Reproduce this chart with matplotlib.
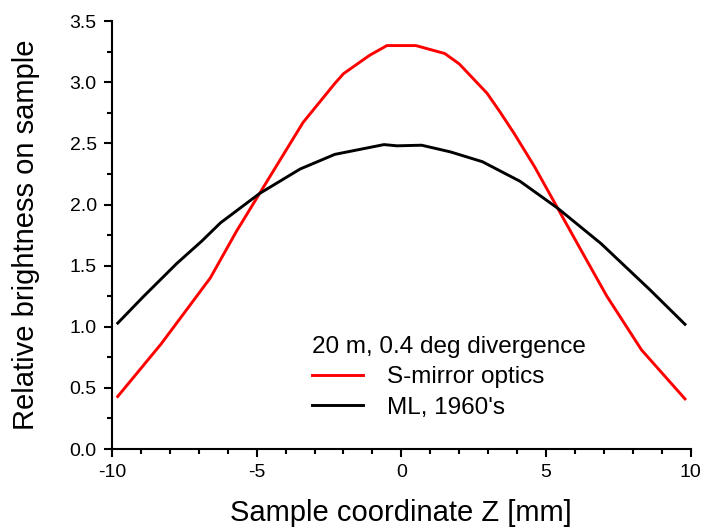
import matplotlib.pyplot as plt
from matplotlib.ticker import MultipleLocator

plt.rcParams['font.family'] = ['Liberation Sans', 'DejaVu Sans']

# S-mirror optics (red)
red_x = [-9.8, -8.3, -6.6, -5.7, -4.9, -3.4, -2.3, -2.0, -1.1, -0.5, 0.5,
         1.5, 2.0, 2.96, 3.4, 3.9, 4.6, 5.4, 6.2, 7.1, 8.3, 9.8]
red_y = [0.43, 0.86, 1.40, 1.78, 2.09, 2.67, 2.99, 3.07, 3.22, 3.30, 3.30,
         3.235, 3.15, 2.91, 2.76, 2.58, 2.31, 1.97, 1.63, 1.25, 0.81, 0.41]

# ML, 1960's (black)
black_x = [-9.8, -8.9, -7.75, -6.9, -6.25, -4.9, -3.5, -2.3, -0.6, -0.15,
           0.7, 1.7, 2.8, 4.1, 5.4, 6.9, 8.6, 9.8]
black_y = [1.03, 1.25, 1.52, 1.70, 1.85, 2.09, 2.29, 2.41, 2.49, 2.48,
           2.485, 2.43, 2.35, 2.19, 1.97, 1.68, 1.30, 1.02]

fig = plt.figure(figsize=(7.02, 5.28), dpi=100)
ax = fig.add_axes([0.1595, 0.1496, 0.8245, 0.8104])

ax.plot(red_x, red_y, color='#ff0000', lw=2.1, label='S-mirror optics')
ax.plot(black_x, black_y, color='black', lw=2.1, label="ML, 1960's")

ax.set_xlim(-10, 10)
ax.set_ylim(0, 3.5)
ax.xaxis.set_major_locator(MultipleLocator(5))
ax.xaxis.set_minor_locator(MultipleLocator(1))
ax.yaxis.set_major_locator(MultipleLocator(0.5))
ax.yaxis.set_minor_locator(MultipleLocator(0.25))
ax.xaxis.set_major_formatter(plt.FuncFormatter(lambda v, p: '%d' % v))
ax.yaxis.set_major_formatter(plt.FuncFormatter(lambda v, p: '%.1f' % v))

for s in ['top', 'right']:
    ax.spines[s].set_visible(False)
for s in ['left', 'bottom']:
    ax.spines[s].set_linewidth(1.5)

ax.tick_params(which='major', direction='out', length=6, width=1.5, labelsize=14, pad=5)
ax.tick_params(which='minor', direction='out', length=3.5, width=1.5)

ax.set_xlabel('Sample coordinate Z [mm]', fontsize=21, labelpad=13)
ax.set_ylabel('Relative brightness on sample', fontsize=21, labelpad=21)

leg = ax.legend(title='20 m, 0.4 deg divergence', loc='upper left',
                bbox_to_anchor=(0.345, 0.265), frameon=False, fontsize=17.5,
                title_fontsize=17.5, alignment='left', borderpad=0,
                handlelength=2.1, handletextpad=1.0, labelspacing=0.35,
                borderaxespad=0)

fig.savefig('out.png', dpi=100)
